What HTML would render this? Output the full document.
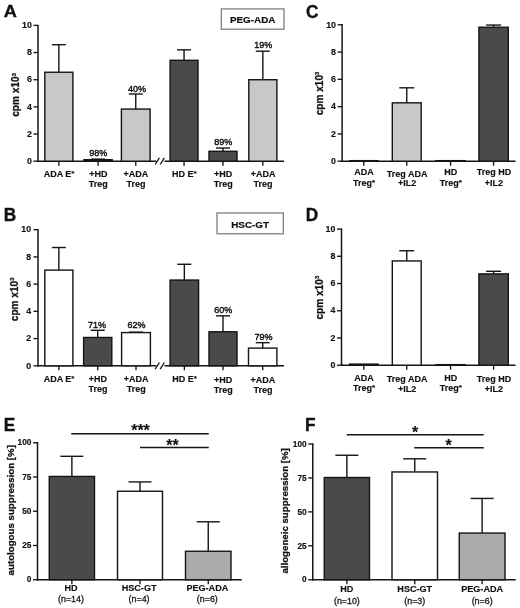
<!DOCTYPE html>
<html><head><meta charset="utf-8"><title>Figure</title>
<style>
html,body{margin:0;padding:0;background:#fff;}
body{width:520px;height:608px;overflow:hidden;font-family:"Liberation Sans",sans-serif;}
svg{display:block;will-change:transform;filter:grayscale(1);}
svg text{font-family:"Liberation Sans",sans-serif;fill:#111;stroke:#111;stroke-width:0.15;}
svg text.big{stroke-width:0.35;}
svg text.med{stroke-width:0.4;}
svg text.med2{stroke-width:0.28;}
svg text.box{stroke-width:0.2;}
</style></head><body>
<svg width="520" height="608" viewBox="0 0 520 608">
<rect x="0" y="0" width="520" height="608" fill="#ffffff"/>
<text transform="translate(3.8,16.8) scale(1.06,1.0)" font-size="17.2" font-weight="bold" class="big">A</text>
<line x1="38" y1="24.7" x2="38" y2="161.89999999999998" stroke="#151515" stroke-width="1.5"/>
<line x1="33.5" y1="161.2" x2="38" y2="161.2" stroke="#151515" stroke-width="1.35"/>
<text x="31.9" y="163.89999999999998" font-size="8.8" font-weight="bold" text-anchor="end" >0</text>
<line x1="33.5" y1="134.04" x2="38" y2="134.04" stroke="#151515" stroke-width="1.35"/>
<text x="31.9" y="136.73999999999998" font-size="8.8" font-weight="bold" text-anchor="end" >2</text>
<line x1="33.5" y1="106.88" x2="38" y2="106.88" stroke="#151515" stroke-width="1.35"/>
<text x="31.9" y="109.58" font-size="8.8" font-weight="bold" text-anchor="end" >4</text>
<line x1="33.5" y1="79.72" x2="38" y2="79.72" stroke="#151515" stroke-width="1.35"/>
<text x="31.9" y="82.42" font-size="8.8" font-weight="bold" text-anchor="end" >6</text>
<line x1="33.5" y1="52.56" x2="38" y2="52.56" stroke="#151515" stroke-width="1.35"/>
<text x="31.9" y="55.260000000000005" font-size="8.8" font-weight="bold" text-anchor="end" >8</text>
<line x1="33.5" y1="25.400000000000006" x2="38" y2="25.400000000000006" stroke="#151515" stroke-width="1.35"/>
<text x="31.9" y="28.100000000000005" font-size="8.8" font-weight="bold" text-anchor="end" >10</text>
<text transform="translate(19.4,94.89999999999999) rotate(-90) scale(1.0,1)" font-size="10.1" font-weight="bold" text-anchor="middle" class="med2">cpm x10<tspan font-size="5.9" dy="-3.7">3</tspan></text>
<line x1="37.4" y1="161.2" x2="156.5" y2="161.2" stroke="#151515" stroke-width="1.55"/>
<line x1="164.5" y1="161.2" x2="284" y2="161.2" stroke="#151515" stroke-width="1.55"/>
<line x1="155.2" y1="164.5" x2="159.4" y2="157.89999999999998" stroke="#151515" stroke-width="1.3"/>
<line x1="160.2" y1="164.5" x2="164.4" y2="157.89999999999998" stroke="#151515" stroke-width="1.3"/>
<line x1="58.85" y1="44.6836" x2="58.85" y2="72.251" stroke="#151515" stroke-width="1.4"/>
<line x1="51.85" y1="44.6836" x2="65.85" y2="44.6836" stroke="#151515" stroke-width="1.4"/>
<rect x="44.8" y="72.251" width="28.10000000000001" height="88.94899999999998" fill="#c8c8c8" stroke="#151515" stroke-width="1.4"/>
<line x1="58.85" y1="161.2" x2="58.85" y2="165.7" stroke="#151515" stroke-width="1.35"/>
<line x1="98.1" y1="159.16299999999998" x2="98.1" y2="159.7062" stroke="#151515" stroke-width="1.4"/>
<line x1="91.1" y1="159.16299999999998" x2="105.1" y2="159.16299999999998" stroke="#151515" stroke-width="1.4"/>
<rect x="84" y="159.7062" width="28.200000000000003" height="1.4937999999999931" fill="#2a2a2a" stroke="#151515" stroke-width="1.4"/>
<line x1="98.1" y1="161.2" x2="98.1" y2="165.7" stroke="#151515" stroke-width="1.35"/>
<line x1="135.75" y1="93.979" x2="135.75" y2="109.05279999999999" stroke="#151515" stroke-width="1.4"/>
<line x1="128.75" y1="93.979" x2="142.75" y2="93.979" stroke="#151515" stroke-width="1.4"/>
<rect x="121.4" y="109.05279999999999" width="28.69999999999999" height="52.1472" fill="#c8c8c8" stroke="#151515" stroke-width="1.4"/>
<line x1="135.75" y1="161.2" x2="135.75" y2="165.7" stroke="#151515" stroke-width="1.35"/>
<line x1="184.05" y1="49.84400000000001" x2="184.05" y2="60.3006" stroke="#151515" stroke-width="1.4"/>
<line x1="177.05" y1="49.84400000000001" x2="191.05" y2="49.84400000000001" stroke="#151515" stroke-width="1.4"/>
<rect x="170.1" y="60.3006" width="27.900000000000006" height="100.89939999999999" fill="#4a4a4a" stroke="#151515" stroke-width="1.4"/>
<line x1="184.05" y1="161.2" x2="184.05" y2="165.7" stroke="#151515" stroke-width="1.35"/>
<line x1="223.0" y1="148.0274" x2="223.0" y2="151.2866" stroke="#151515" stroke-width="1.4"/>
<line x1="216.0" y1="148.0274" x2="230.0" y2="148.0274" stroke="#151515" stroke-width="1.4"/>
<rect x="209.0" y="151.2866" width="28.0" height="9.913399999999996" fill="#4a4a4a" stroke="#151515" stroke-width="1.4"/>
<line x1="223.0" y1="161.2" x2="223.0" y2="165.7" stroke="#151515" stroke-width="1.35"/>
<line x1="262.85" y1="51.20200000000001" x2="262.85" y2="79.72" stroke="#151515" stroke-width="1.4"/>
<line x1="255.85000000000002" y1="51.20200000000001" x2="269.85" y2="51.20200000000001" stroke="#151515" stroke-width="1.4"/>
<rect x="248.8" y="79.72" width="28.099999999999966" height="81.47999999999999" fill="#c8c8c8" stroke="#151515" stroke-width="1.4"/>
<line x1="262.85" y1="161.2" x2="262.85" y2="165.7" stroke="#151515" stroke-width="1.35"/>
<text x="59.050000000000004" y="176.7" font-size="9.0" font-weight="bold" text-anchor="middle" >ADA E<tspan font-size="8" dy="-1">*</tspan></text>
<text x="98.3" y="176.7" font-size="9.0" font-weight="bold" text-anchor="middle" >+HD</text>
<text x="98.3" y="186.7" font-size="9.0" font-weight="bold" text-anchor="middle" >Treg</text>
<text x="135.95" y="176.7" font-size="9.0" font-weight="bold" text-anchor="middle" >+ADA</text>
<text x="135.95" y="186.7" font-size="9.0" font-weight="bold" text-anchor="middle" >Treg</text>
<text x="184.25" y="176.7" font-size="9.0" font-weight="bold" text-anchor="middle" >HD E<tspan font-size="8" dy="-1">*</tspan></text>
<text x="223.2" y="176.7" font-size="9.0" font-weight="bold" text-anchor="middle" >+HD</text>
<text x="223.2" y="186.7" font-size="9.0" font-weight="bold" text-anchor="middle" >Treg</text>
<text x="263.05" y="176.7" font-size="9.0" font-weight="bold" text-anchor="middle" >+ADA</text>
<text x="263.05" y="186.7" font-size="9.0" font-weight="bold" text-anchor="middle" >Treg</text>
<text x="98.2" y="155.6" font-size="9.0" font-weight="normal" text-anchor="middle" class="med">98%</text>
<text x="136.9" y="92.0" font-size="9.0" font-weight="normal" text-anchor="middle" class="med">40%</text>
<text x="223.3" y="144.5" font-size="9.0" font-weight="normal" text-anchor="middle" class="med">89%</text>
<text x="263.2" y="48.0" font-size="9.0" font-weight="normal" text-anchor="middle" class="med">19%</text>
<rect x="221.3" y="8.9" width="62.69999999999999" height="20.299999999999997" fill="#fff" stroke="#7a7a7a" stroke-width="1.25"/>
<text x="252.65" y="23.450000000000003" font-size="9.9" font-weight="bold" text-anchor="middle" class="box">PEG-ADA</text>
<text transform="translate(3.7,220.8) scale(1,1.08)" font-size="17.2" font-weight="bold" class="big">B</text>
<line x1="38" y1="229.0" x2="38" y2="366.5" stroke="#151515" stroke-width="1.5"/>
<line x1="33.5" y1="365.8" x2="38" y2="365.8" stroke="#151515" stroke-width="1.35"/>
<text x="31.099999999999998" y="368.5" font-size="8.8" font-weight="bold" text-anchor="end" >0</text>
<line x1="33.5" y1="338.58" x2="38" y2="338.58" stroke="#151515" stroke-width="1.35"/>
<text x="31.099999999999998" y="341.28" font-size="8.8" font-weight="bold" text-anchor="end" >2</text>
<line x1="33.5" y1="311.36" x2="38" y2="311.36" stroke="#151515" stroke-width="1.35"/>
<text x="31.099999999999998" y="314.06" font-size="8.8" font-weight="bold" text-anchor="end" >4</text>
<line x1="33.5" y1="284.14" x2="38" y2="284.14" stroke="#151515" stroke-width="1.35"/>
<text x="31.099999999999998" y="286.84" font-size="8.8" font-weight="bold" text-anchor="end" >6</text>
<line x1="33.5" y1="256.91999999999996" x2="38" y2="256.91999999999996" stroke="#151515" stroke-width="1.35"/>
<text x="31.099999999999998" y="259.61999999999995" font-size="8.8" font-weight="bold" text-anchor="end" >8</text>
<line x1="33.5" y1="229.7" x2="38" y2="229.7" stroke="#151515" stroke-width="1.35"/>
<text x="31.099999999999998" y="232.39999999999998" font-size="8.8" font-weight="bold" text-anchor="end" >10</text>
<text transform="translate(17.6,299.35) rotate(-90) scale(1.0,1)" font-size="10.1" font-weight="bold" text-anchor="middle" class="med2">cpm x10<tspan font-size="5.9" dy="-3.7">3</tspan></text>
<line x1="37.4" y1="365.8" x2="156.5" y2="365.8" stroke="#151515" stroke-width="1.55"/>
<line x1="164.5" y1="365.8" x2="284" y2="365.8" stroke="#151515" stroke-width="1.55"/>
<line x1="155.2" y1="369.1" x2="159.4" y2="362.5" stroke="#151515" stroke-width="1.3"/>
<line x1="160.2" y1="369.1" x2="164.4" y2="362.5" stroke="#151515" stroke-width="1.3"/>
<line x1="58.85" y1="247.52909999999997" x2="58.85" y2="270.1217" stroke="#151515" stroke-width="1.4"/>
<line x1="51.85" y1="247.52909999999997" x2="65.85" y2="247.52909999999997" stroke="#151515" stroke-width="1.4"/>
<rect x="44.8" y="270.1217" width="28.10000000000001" height="95.67830000000004" fill="#ffffff" stroke="#151515" stroke-width="1.4"/>
<line x1="58.85" y1="365.8" x2="58.85" y2="370.3" stroke="#151515" stroke-width="1.35"/>
<line x1="97.69999999999999" y1="330.2779" x2="97.69999999999999" y2="337.4912" stroke="#151515" stroke-width="1.4"/>
<line x1="90.69999999999999" y1="330.2779" x2="104.69999999999999" y2="330.2779" stroke="#151515" stroke-width="1.4"/>
<rect x="83.6" y="337.4912" width="28.200000000000003" height="28.30880000000002" fill="#4a4a4a" stroke="#151515" stroke-width="1.4"/>
<line x1="97.69999999999999" y1="365.8" x2="97.69999999999999" y2="370.3" stroke="#151515" stroke-width="1.35"/>
<line x1="136.0" y1="332.18330000000003" x2="136.0" y2="332.5916" stroke="#151515" stroke-width="1.4"/>
<line x1="129.0" y1="332.18330000000003" x2="143.0" y2="332.18330000000003" stroke="#151515" stroke-width="1.4"/>
<rect x="121.6" y="332.5916" width="28.80000000000001" height="33.20839999999998" fill="#ffffff" stroke="#151515" stroke-width="1.4"/>
<line x1="136.0" y1="365.8" x2="136.0" y2="370.3" stroke="#151515" stroke-width="1.35"/>
<line x1="184.35" y1="264.2694" x2="184.35" y2="280.057" stroke="#151515" stroke-width="1.4"/>
<line x1="177.35" y1="264.2694" x2="191.35" y2="264.2694" stroke="#151515" stroke-width="1.4"/>
<rect x="170.1" y="280.057" width="28.5" height="85.743" fill="#4a4a4a" stroke="#151515" stroke-width="1.4"/>
<line x1="184.35" y1="365.8" x2="184.35" y2="370.3" stroke="#151515" stroke-width="1.35"/>
<line x1="223.0" y1="315.8513" x2="223.0" y2="331.775" stroke="#151515" stroke-width="1.4"/>
<line x1="216.0" y1="315.8513" x2="230.0" y2="315.8513" stroke="#151515" stroke-width="1.4"/>
<rect x="209.0" y="331.775" width="28.0" height="34.025000000000034" fill="#4a4a4a" stroke="#151515" stroke-width="1.4"/>
<line x1="223.0" y1="365.8" x2="223.0" y2="370.3" stroke="#151515" stroke-width="1.35"/>
<line x1="262.7" y1="342.663" x2="262.7" y2="348.107" stroke="#151515" stroke-width="1.4"/>
<line x1="255.7" y1="342.663" x2="269.7" y2="342.663" stroke="#151515" stroke-width="1.4"/>
<rect x="248.5" y="348.107" width="28.399999999999977" height="17.692999999999984" fill="#ffffff" stroke="#151515" stroke-width="1.4"/>
<line x1="262.7" y1="365.8" x2="262.7" y2="370.3" stroke="#151515" stroke-width="1.35"/>
<text x="59.050000000000004" y="382.3" font-size="9.0" font-weight="bold" text-anchor="middle" >ADA E<tspan font-size="8" dy="-1">*</tspan></text>
<text x="97.89999999999999" y="382.3" font-size="9.0" font-weight="bold" text-anchor="middle" >+HD</text>
<text x="97.89999999999999" y="392.3" font-size="9.0" font-weight="bold" text-anchor="middle" >Treg</text>
<text x="136.2" y="382.3" font-size="9.0" font-weight="bold" text-anchor="middle" >+ADA</text>
<text x="136.2" y="392.3" font-size="9.0" font-weight="bold" text-anchor="middle" >Treg</text>
<text x="184.54999999999998" y="382.3" font-size="9.0" font-weight="bold" text-anchor="middle" >HD E<tspan font-size="8" dy="-1">*</tspan></text>
<text x="223.2" y="383.40000000000003" font-size="9.0" font-weight="bold" text-anchor="middle" >+HD</text>
<text x="223.2" y="393.40000000000003" font-size="9.0" font-weight="bold" text-anchor="middle" >Treg</text>
<text x="262.9" y="383.40000000000003" font-size="9.0" font-weight="bold" text-anchor="middle" >+ADA</text>
<text x="262.9" y="393.40000000000003" font-size="9.0" font-weight="bold" text-anchor="middle" >Treg</text>
<text x="96.9" y="327.5" font-size="9.0" font-weight="normal" text-anchor="middle" class="med">71%</text>
<text x="136.4" y="328.0" font-size="9.0" font-weight="normal" text-anchor="middle" class="med">62%</text>
<text x="223.2" y="312.5" font-size="9.0" font-weight="normal" text-anchor="middle" class="med">60%</text>
<text x="263.6" y="340.0" font-size="9.0" font-weight="normal" text-anchor="middle" class="med">79%</text>
<rect x="217" y="213" width="66.30000000000001" height="20.80000000000001" fill="#fff" stroke="#7a7a7a" stroke-width="1.25"/>
<text x="250.15" y="227.8" font-size="9.9" font-weight="bold" text-anchor="middle" class="box">HSC-GT</text>
<text transform="translate(306.0,17.5) scale(1,1.08)" font-size="17.2" font-weight="bold" class="big">C</text>
<line x1="342.1" y1="24.1" x2="342.1" y2="161.89999999999998" stroke="#151515" stroke-width="1.5"/>
<line x1="337.6" y1="161.2" x2="342.1" y2="161.2" stroke="#151515" stroke-width="1.35"/>
<text x="336.0" y="163.89999999999998" font-size="8.8" font-weight="bold" text-anchor="end" >0</text>
<line x1="337.6" y1="133.92" x2="342.1" y2="133.92" stroke="#151515" stroke-width="1.35"/>
<text x="336.0" y="136.61999999999998" font-size="8.8" font-weight="bold" text-anchor="end" >2</text>
<line x1="337.6" y1="106.64" x2="342.1" y2="106.64" stroke="#151515" stroke-width="1.35"/>
<text x="336.0" y="109.34" font-size="8.8" font-weight="bold" text-anchor="end" >4</text>
<line x1="337.6" y1="79.36" x2="342.1" y2="79.36" stroke="#151515" stroke-width="1.35"/>
<text x="336.0" y="82.06" font-size="8.8" font-weight="bold" text-anchor="end" >6</text>
<line x1="337.6" y1="52.08000000000001" x2="342.1" y2="52.08000000000001" stroke="#151515" stroke-width="1.35"/>
<text x="336.0" y="54.780000000000015" font-size="8.8" font-weight="bold" text-anchor="end" >8</text>
<line x1="337.6" y1="24.80000000000001" x2="342.1" y2="24.80000000000001" stroke="#151515" stroke-width="1.35"/>
<text x="336.0" y="27.50000000000001" font-size="8.8" font-weight="bold" text-anchor="end" >10</text>
<text transform="translate(322.9,93.5) rotate(-90) scale(1.0,1)" font-size="10.1" font-weight="bold" text-anchor="middle" class="med2">cpm x10<tspan font-size="5.9" dy="-3.7">3</tspan></text>
<line x1="341.5" y1="161.2" x2="515.5" y2="161.2" stroke="#151515" stroke-width="1.55"/>
<rect x="349.6" y="160.65439999999998" width="28.399999999999977" height="0.5456000000000074" fill="#c8c8c8" stroke="#151515" stroke-width="1.4"/>
<line x1="363.8" y1="161.2" x2="363.8" y2="165.7" stroke="#151515" stroke-width="1.35"/>
<line x1="406.75" y1="87.8168" x2="406.75" y2="102.82079999999999" stroke="#151515" stroke-width="1.4"/>
<line x1="399.25" y1="87.8168" x2="414.25" y2="87.8168" stroke="#151515" stroke-width="1.4"/>
<rect x="392.3" y="102.82079999999999" width="28.899999999999977" height="58.3792" fill="#c8c8c8" stroke="#151515" stroke-width="1.4"/>
<line x1="406.75" y1="161.2" x2="406.75" y2="165.7" stroke="#151515" stroke-width="1.35"/>
<rect x="435.8" y="160.65439999999998" width="29.5" height="0.5456000000000074" fill="#4a4a4a" stroke="#151515" stroke-width="1.4"/>
<line x1="450.55" y1="161.2" x2="450.55" y2="165.7" stroke="#151515" stroke-width="1.35"/>
<line x1="493.6" y1="25.0728" x2="493.6" y2="27.255200000000002" stroke="#151515" stroke-width="1.4"/>
<line x1="486.1" y1="25.0728" x2="501.1" y2="25.0728" stroke="#151515" stroke-width="1.4"/>
<rect x="478.9" y="27.255200000000002" width="29.400000000000034" height="133.9448" fill="#4a4a4a" stroke="#151515" stroke-width="1.4"/>
<line x1="493.6" y1="161.2" x2="493.6" y2="165.7" stroke="#151515" stroke-width="1.35"/>
<text x="364.1" y="175.39999999999998" font-size="9.0" font-weight="bold" text-anchor="middle" >ADA</text>
<text x="364.1" y="186.09999999999997" font-size="9.0" font-weight="bold" text-anchor="middle" >Treg<tspan font-size="8" dy="-1">*</tspan></text>
<text x="407.05" y="176.89999999999998" font-size="9.0" font-weight="bold" text-anchor="middle" >Treg ADA</text>
<text x="407.05" y="186.09999999999997" font-size="9.0" font-weight="bold" text-anchor="middle" >+IL2</text>
<text x="450.85" y="175.39999999999998" font-size="9.0" font-weight="bold" text-anchor="middle" >HD</text>
<text x="450.85" y="186.09999999999997" font-size="9.0" font-weight="bold" text-anchor="middle" >Treg<tspan font-size="8" dy="-1">*</tspan></text>
<text x="493.90000000000003" y="175.39999999999998" font-size="9.0" font-weight="bold" text-anchor="middle" >Treg HD</text>
<text x="493.90000000000003" y="185.59999999999997" font-size="9.0" font-weight="bold" text-anchor="middle" >+IL2</text>
<text transform="translate(305.7,221.4) scale(1,1.08)" font-size="17.2" font-weight="bold" class="big">D</text>
<line x1="341.5" y1="228.4" x2="341.5" y2="365.9" stroke="#151515" stroke-width="1.5"/>
<line x1="337.0" y1="365.2" x2="341.5" y2="365.2" stroke="#151515" stroke-width="1.35"/>
<text x="335.4" y="367.9" font-size="8.8" font-weight="bold" text-anchor="end" >0</text>
<line x1="337.0" y1="337.98" x2="341.5" y2="337.98" stroke="#151515" stroke-width="1.35"/>
<text x="335.4" y="340.68" font-size="8.8" font-weight="bold" text-anchor="end" >2</text>
<line x1="337.0" y1="310.76" x2="341.5" y2="310.76" stroke="#151515" stroke-width="1.35"/>
<text x="335.4" y="313.46" font-size="8.8" font-weight="bold" text-anchor="end" >4</text>
<line x1="337.0" y1="283.53999999999996" x2="341.5" y2="283.53999999999996" stroke="#151515" stroke-width="1.35"/>
<text x="335.4" y="286.23999999999995" font-size="8.8" font-weight="bold" text-anchor="end" >6</text>
<line x1="337.0" y1="256.32" x2="341.5" y2="256.32" stroke="#151515" stroke-width="1.35"/>
<text x="335.4" y="259.02" font-size="8.8" font-weight="bold" text-anchor="end" >8</text>
<line x1="337.0" y1="229.1" x2="341.5" y2="229.1" stroke="#151515" stroke-width="1.35"/>
<text x="335.4" y="231.79999999999998" font-size="8.8" font-weight="bold" text-anchor="end" >10</text>
<text transform="translate(322.9,297.65) rotate(-90) scale(1.0,1)" font-size="10.1" font-weight="bold" text-anchor="middle" class="med2">cpm x10<tspan font-size="5.9" dy="-3.7">3</tspan></text>
<line x1="340.9" y1="365.2" x2="515.5" y2="365.2" stroke="#151515" stroke-width="1.55"/>
<rect x="349.6" y="364.1112" width="28.399999999999977" height="1.088799999999992" fill="#ffffff" stroke="#151515" stroke-width="1.4"/>
<line x1="363.8" y1="365.2" x2="363.8" y2="369.7" stroke="#151515" stroke-width="1.35"/>
<line x1="406.75" y1="250.73989999999998" x2="406.75" y2="260.9474" stroke="#151515" stroke-width="1.4"/>
<line x1="399.25" y1="250.73989999999998" x2="414.25" y2="250.73989999999998" stroke="#151515" stroke-width="1.4"/>
<rect x="392.3" y="260.9474" width="28.899999999999977" height="104.25259999999997" fill="#ffffff" stroke="#151515" stroke-width="1.4"/>
<line x1="406.75" y1="365.2" x2="406.75" y2="369.7" stroke="#151515" stroke-width="1.35"/>
<rect x="435.8" y="364.6556" width="29.5" height="0.544399999999996" fill="#4a4a4a" stroke="#151515" stroke-width="1.4"/>
<line x1="450.55" y1="365.2" x2="450.55" y2="369.7" stroke="#151515" stroke-width="1.35"/>
<line x1="493.6" y1="271.291" x2="493.6" y2="273.8769" stroke="#151515" stroke-width="1.4"/>
<line x1="486.1" y1="271.291" x2="501.1" y2="271.291" stroke="#151515" stroke-width="1.4"/>
<rect x="478.9" y="273.8769" width="29.400000000000034" height="91.32310000000001" fill="#4a4a4a" stroke="#151515" stroke-width="1.4"/>
<line x1="493.6" y1="365.2" x2="493.6" y2="369.7" stroke="#151515" stroke-width="1.35"/>
<text x="364.1" y="380.59999999999997" font-size="9.0" font-weight="bold" text-anchor="middle" >ADA</text>
<text x="364.1" y="391.29999999999995" font-size="9.0" font-weight="bold" text-anchor="middle" >Treg<tspan font-size="8" dy="-1">*</tspan></text>
<text x="407.05" y="382.2" font-size="9.0" font-weight="bold" text-anchor="middle" >Treg ADA</text>
<text x="407.05" y="391.59999999999997" font-size="9.0" font-weight="bold" text-anchor="middle" >+IL2</text>
<text x="450.85" y="380.59999999999997" font-size="9.0" font-weight="bold" text-anchor="middle" >HD</text>
<text x="450.85" y="391.29999999999995" font-size="9.0" font-weight="bold" text-anchor="middle" >Treg<tspan font-size="8" dy="-1">*</tspan></text>
<text x="493.90000000000003" y="382.2" font-size="9.0" font-weight="bold" text-anchor="middle" >Treg HD</text>
<text x="493.90000000000003" y="391.59999999999997" font-size="9.0" font-weight="bold" text-anchor="middle" >+IL2</text>
<text transform="translate(3.7,431.0) scale(1,1.08)" font-size="17.2" font-weight="bold" class="big">E</text>
<line x1="37.5" y1="442.05" x2="37.5" y2="580.45" stroke="#151515" stroke-width="1.5"/>
<line x1="33.0" y1="579.75" x2="37.5" y2="579.75" stroke="#151515" stroke-width="1.35"/>
<text x="31.4" y="582.45" font-size="8.3" font-weight="bold" text-anchor="end" >0</text>
<line x1="33.0" y1="545.5" x2="37.5" y2="545.5" stroke="#151515" stroke-width="1.35"/>
<text x="31.4" y="548.2" font-size="8.3" font-weight="bold" text-anchor="end" >25</text>
<line x1="33.0" y1="511.25" x2="37.5" y2="511.25" stroke="#151515" stroke-width="1.35"/>
<text x="31.4" y="513.95" font-size="8.3" font-weight="bold" text-anchor="end" >50</text>
<line x1="33.0" y1="477.0" x2="37.5" y2="477.0" stroke="#151515" stroke-width="1.35"/>
<text x="31.4" y="479.7" font-size="8.3" font-weight="bold" text-anchor="end" >75</text>
<line x1="33.0" y1="442.75" x2="37.5" y2="442.75" stroke="#151515" stroke-width="1.35"/>
<text x="31.4" y="445.45" font-size="8.3" font-weight="bold" text-anchor="end" >100</text>
<text transform="translate(13.7,510.25) rotate(-90) scale(1.0,1)" font-size="9.7" font-weight="bold" text-anchor="middle" class="med2">autologous suppression [%]</text>
<line x1="36.9" y1="579.75" x2="241.75" y2="579.75" stroke="#151515" stroke-width="1.55"/>
<line x1="71.875" y1="456.313" x2="71.875" y2="476.452" stroke="#151515" stroke-width="1.4"/>
<line x1="60.375" y1="456.313" x2="83.375" y2="456.313" stroke="#151515" stroke-width="1.4"/>
<rect x="49.25" y="476.452" width="45.25" height="103.298" fill="#4a4a4a" stroke="#151515" stroke-width="1.4"/>
<line x1="71.875" y1="579.75" x2="71.875" y2="584.25" stroke="#151515" stroke-width="1.35"/>
<line x1="140.0" y1="481.932" x2="140.0" y2="491.248" stroke="#151515" stroke-width="1.4"/>
<line x1="128.5" y1="481.932" x2="151.5" y2="481.932" stroke="#151515" stroke-width="1.4"/>
<rect x="117.5" y="491.248" width="45.0" height="88.50200000000001" fill="#ffffff" stroke="#151515" stroke-width="1.4"/>
<line x1="140.0" y1="579.75" x2="140.0" y2="584.25" stroke="#151515" stroke-width="1.35"/>
<line x1="208.25" y1="521.799" x2="208.25" y2="551.254" stroke="#151515" stroke-width="1.4"/>
<line x1="196.75" y1="521.799" x2="219.75" y2="521.799" stroke="#151515" stroke-width="1.4"/>
<rect x="185.5" y="551.254" width="45.5" height="28.49599999999998" fill="#ababab" stroke="#151515" stroke-width="1.4"/>
<line x1="208.25" y1="579.75" x2="208.25" y2="584.25" stroke="#151515" stroke-width="1.35"/>
<text x="70.975" y="591.05" font-size="9.1" font-weight="bold" text-anchor="middle" >HD</text>
<text x="70.975" y="602.35" font-size="8.9" font-weight="normal" text-anchor="middle" class="med2">(n=14)</text>
<text x="139.1" y="591.05" font-size="9.1" font-weight="bold" text-anchor="middle" >HSC-GT</text>
<text x="139.1" y="602.35" font-size="8.9" font-weight="normal" text-anchor="middle" class="med2">(n=4)</text>
<text x="207.35" y="591.05" font-size="9.1" font-weight="bold" text-anchor="middle" >PEG-ADA</text>
<text x="207.35" y="602.35" font-size="8.9" font-weight="normal" text-anchor="middle" class="med2">(n=6)</text>
<line x1="71.25" y1="433.75" x2="208.75" y2="433.75" stroke="#151515" stroke-width="1.35"/>
<text x="140.5" y="435.95" font-size="16" font-weight="bold" text-anchor="middle" >***</text>
<line x1="140" y1="447.5" x2="208.75" y2="447.5" stroke="#151515" stroke-width="1.35"/>
<text x="172.5" y="450.90000000000003" font-size="16" font-weight="bold" text-anchor="middle" >**</text>
<text transform="translate(305.0,430.8) scale(1,1.08)" font-size="17.2" font-weight="bold" class="big">F</text>
<line x1="312.75" y1="443.3" x2="312.75" y2="580.45" stroke="#151515" stroke-width="1.5"/>
<line x1="308.25" y1="579.75" x2="312.75" y2="579.75" stroke="#151515" stroke-width="1.35"/>
<text x="306.65" y="582.45" font-size="8.3" font-weight="bold" text-anchor="end" >0</text>
<line x1="308.25" y1="545.8125" x2="312.75" y2="545.8125" stroke="#151515" stroke-width="1.35"/>
<text x="306.65" y="548.5125" font-size="8.3" font-weight="bold" text-anchor="end" >25</text>
<line x1="308.25" y1="511.875" x2="312.75" y2="511.875" stroke="#151515" stroke-width="1.35"/>
<text x="306.65" y="514.575" font-size="8.3" font-weight="bold" text-anchor="end" >50</text>
<line x1="308.25" y1="477.9375" x2="312.75" y2="477.9375" stroke="#151515" stroke-width="1.35"/>
<text x="306.65" y="480.6375" font-size="8.3" font-weight="bold" text-anchor="end" >75</text>
<line x1="308.25" y1="444.0" x2="312.75" y2="444.0" stroke="#151515" stroke-width="1.35"/>
<text x="306.65" y="446.7" font-size="8.3" font-weight="bold" text-anchor="end" >100</text>
<text transform="translate(287.5,510.875) rotate(-90) scale(1.0,1)" font-size="9.7" font-weight="bold" text-anchor="middle" class="med2">allogeneic suppression [%]</text>
<line x1="312.15" y1="579.75" x2="515.75" y2="579.75" stroke="#151515" stroke-width="1.55"/>
<line x1="346.875" y1="455.26725" x2="346.875" y2="477.53025" stroke="#151515" stroke-width="1.4"/>
<line x1="335.375" y1="455.26725" x2="358.375" y2="455.26725" stroke="#151515" stroke-width="1.4"/>
<rect x="324.25" y="477.53025" width="45.25" height="102.21974999999998" fill="#4a4a4a" stroke="#151515" stroke-width="1.4"/>
<line x1="346.875" y1="579.75" x2="346.875" y2="584.25" stroke="#151515" stroke-width="1.35"/>
<line x1="414.75" y1="458.79675000000003" x2="414.75" y2="471.9645" stroke="#151515" stroke-width="1.4"/>
<line x1="403.25" y1="458.79675000000003" x2="426.25" y2="458.79675000000003" stroke="#151515" stroke-width="1.4"/>
<rect x="392" y="471.9645" width="45.5" height="107.78550000000001" fill="#ffffff" stroke="#151515" stroke-width="1.4"/>
<line x1="414.75" y1="579.75" x2="414.75" y2="584.25" stroke="#151515" stroke-width="1.35"/>
<line x1="482.125" y1="498.43575" x2="482.125" y2="533.052" stroke="#151515" stroke-width="1.4"/>
<line x1="470.625" y1="498.43575" x2="493.625" y2="498.43575" stroke="#151515" stroke-width="1.4"/>
<rect x="459.25" y="533.052" width="45.75" height="46.69799999999998" fill="#ababab" stroke="#151515" stroke-width="1.4"/>
<line x1="482.125" y1="579.75" x2="482.125" y2="584.25" stroke="#151515" stroke-width="1.35"/>
<text x="346.875" y="592.4499999999999" font-size="9.1" font-weight="bold" text-anchor="middle" >HD</text>
<text x="346.875" y="603.75" font-size="8.9" font-weight="normal" text-anchor="middle" class="med2">(n=10)</text>
<text x="414.75" y="592.4499999999999" font-size="9.1" font-weight="bold" text-anchor="middle" >HSC-GT</text>
<text x="414.75" y="603.75" font-size="8.9" font-weight="normal" text-anchor="middle" class="med2">(n=3)</text>
<text x="482.125" y="592.4499999999999" font-size="9.1" font-weight="bold" text-anchor="middle" >PEG-ADA</text>
<text x="482.125" y="603.75" font-size="8.9" font-weight="normal" text-anchor="middle" class="med2">(n=6)</text>
<line x1="346.75" y1="434.75" x2="483.75" y2="434.75" stroke="#151515" stroke-width="1.35"/>
<text x="415.2" y="437.55" font-size="16" font-weight="bold" text-anchor="middle" >*</text>
<line x1="414.25" y1="447.75" x2="483.75" y2="447.75" stroke="#151515" stroke-width="1.35"/>
<text x="448.5" y="450.55" font-size="16" font-weight="bold" text-anchor="middle" >*</text>
</svg>
</body></html>
